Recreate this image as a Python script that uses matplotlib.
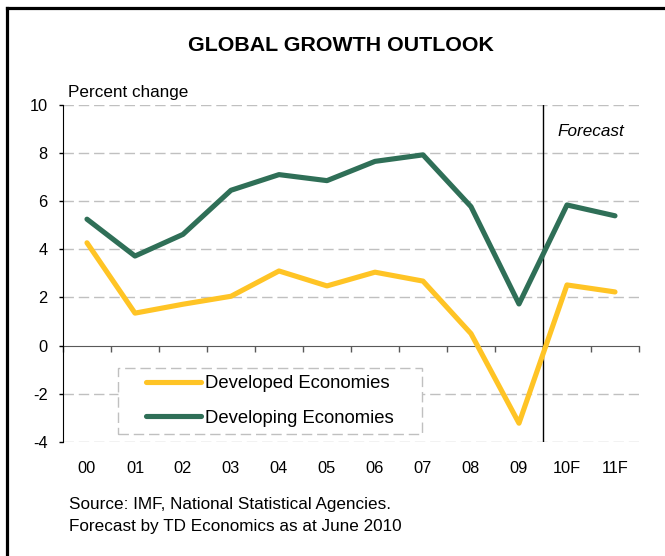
import numpy as np
from matplotlib import pyplot as plt
from matplotlib.lines import Line2D
from matplotlib.patches import Rectangle

plt.rcParams['font.family'] = ['Liberation Sans', 'DejaVu Sans']
plt.rcParams['axes.unicode_minus'] = False

#data
years = ["00", "01", "02", "03", "04", "05", "06", "07", "08", "09", "10F", "11F"]
developed = [4.27, 1.35, 1.72, 2.05, 3.1, 2.48, 3.05, 2.68, 0.5, -3.22, 2.52, 2.23]
developing = [5.25, 3.72, 4.62, 6.45, 7.1, 6.85, 7.65, 7.92, 5.77, 1.73, 5.84, 5.39]
y_ticks = [-4, -2, 0, 2, 4, 6, 8, 10]
forecast_start = 10   # index of first forecast year

yellow = "#FFC425"
green = "#2F6F57"
grid_dash = (0, (7.5, 3.5))

fig = plt.figure(figsize=(6.65, 5.56), dpi=100)
ax = fig.add_axes([0.0947, 0.205, 0.8662, 0.6066])

x = np.arange(len(years))
ax.plot(x, developed, color=yellow, linewidth=3.7, solid_capstyle='round',
        label="Developed Economies", zorder=4)
ax.plot(x, developing, color=green, linewidth=3.7, solid_capstyle='round',
        label="Developing Economies", zorder=4)

ax.set_xlim(-0.5, len(years) - 0.5)
ax.set_ylim(-4, 10)

#dashed grid, zero line drawn as the axis
for v in y_ticks:
    if v != 0:
        ax.axhline(v, color="#C0C0C0", linewidth=1, linestyle=grid_dash, zorder=1)

ax.axvline(forecast_start - 0.5, color="black", linewidth=1, zorder=3)
ax.text(forecast_start - 0.5 + 0.3, 8.9, "Forecast", style='italic', fontsize=12.3,
        ha='left', va='center')

ax.spines['top'].set_visible(False)
ax.spines['right'].set_visible(False)
ax.spines['left'].set_color("black")
ax.spines['bottom'].set_position(('data', 0))
ax.spines['bottom'].set_color("#595959")
ax.spines['bottom'].set_zorder(2)

ax.set_yticks(y_ticks)
ax.tick_params(axis='y', length=3, width=1, pad=8, labelsize=11.8, direction='out')
ax.set_xticks(np.arange(len(years) + 1) - 0.5)
ax.set_xticklabels([])
ax.tick_params(axis='x', length=4, width=1, color="#595959", direction='out')

#category labels at the bottom
sec = ax.secondary_xaxis('bottom')
sec.set_xticks(x)
sec.set_xticklabels(years)
sec.tick_params(length=0, pad=14, labelsize=11.8)
sec.spines['bottom'].set_visible(False)

ax.text(0.009, 1.035, "Percent change", transform=ax.transAxes, fontsize=12.3,
        ha='left', va='center')

#legend: dashed white box with the entries centred in it
box = (0.0955, 0.024, 0.5275, 0.195)
ax.add_patch(Rectangle(box[:2], box[2], box[3], transform=ax.transAxes,
                       facecolor="white", edgecolor="#C0C0C0", linewidth=1,
                       linestyle=grid_dash, zorder=2))
ax.legend(loc='center', bbox_to_anchor=(box[0] + box[2] / 2, box[1] + box[3] / 2),
          fontsize=13.3, handlelength=3.0, handletextpad=0.2, labelspacing=0.95,
          frameon=False, borderaxespad=0)

fig.text(0.513, 0.919, "GLOBAL GROWTH OUTLOOK", fontsize=15.4, fontweight='bold',
         ha='center', va='center')
fig.text(0.104, 1 - 504 / 556, "Source: IMF, National Statistical Agencies.",
         fontsize=12.3, ha='left', va='center')
fig.text(0.104, 1 - 527 / 556, "Forecast by TD Economics as at June 2010",
         fontsize=12.3, ha='left', va='center')

#outer frame (top and left edges visible)
fig.add_artist(Line2D([0.0098, 1], [0.9856, 0.9856], color="black", linewidth=2.3))
fig.add_artist(Line2D([0.0098, 0.0098], [0, 0.9856], color="black", linewidth=2.3))

plt.savefig("out.png", dpi=100)
plt.close()
